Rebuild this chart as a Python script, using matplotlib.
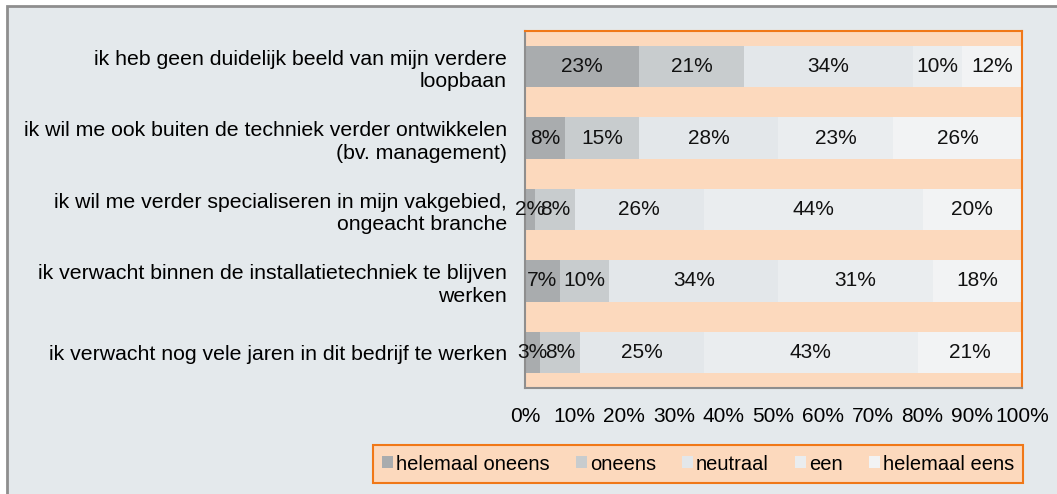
import matplotlib.pyplot as plt
from matplotlib.patches import Rectangle
import numpy as np

plt.rcParams['font.family'] = ['Liberation Sans', 'DejaVu Sans']

# statements, top to bottom
categories = [
    "ik heb geen duidelijk beeld van mijn verdere\nloopbaan",
    "ik wil me ook buiten de techniek verder ontwikkelen\n(bv. management)",
    "ik wil me verder specialiseren in mijn vakgebied,\nongeacht branche",
    "ik verwacht binnen de installatietechniek te blijven\nwerken",
    "ik verwacht nog vele jaren in dit bedrijf te werken",
]
series = ["helemaal oneens", "oneens", "neutraal", "een", "helemaal eens"]
helemaal_oneens = [23, 8, 2, 7, 3]
oneens = [21, 15, 8, 10, 8]
neutraal = [34, 28, 26, 34, 25]
een = [10, 23, 44, 31, 43]
helemaal_eens = [12, 26, 20, 18, 21]
values = [helemaal_oneens, oneens, neutraal, een, helemaal_eens]
colors = ["#a9acae", "#c8ccce", "#e3e7ea", "#eaedef", "#f2f3f4"]

FS = 15

fig = plt.figure(figsize=(10.57, 4.94), dpi=100)
fig.patch.set_facecolor("white")
# chart background with grey frame on top/left
fig.patches.append(Rectangle((7 / 1057, -0.1), 1.2, 1 - 6 / 494 + 0.1, transform=fig.transFigure,
                             facecolor="#e4e9ec", edgecolor="#8e8e8e", linewidth=2, zorder=-10))

ax = fig.add_axes([525 / 1057, 1 - 388 / 494, 497 / 1057, 357 / 494])
ax.set_facecolor("#fcd9bd")

y = np.arange(len(categories))
left = np.zeros(len(categories))
for name, vals, c in zip(series, values, colors):
    vals = np.array(vals, dtype=float)
    ax.barh(y, vals, left=left, height=0.58, color=c, label=name, edgecolor="none")
    for yi, l, v in zip(y, left, vals):
        ax.text(l + v / 2, yi, f"{int(v)}%", ha="center", va="center", fontsize=FS, color="#111111")
    left += vals

ax.set_xlim(0, 100)
ax.set_ylim(len(categories) - 0.5, -0.5)
ax.set_yticks(y)
ax.set_yticklabels(categories, fontsize=15.3, ha="right", linespacing=1.25)
ax.set_xticks(np.arange(0, 101, 10))
ax.set_xticklabels([f"{v}%" for v in range(0, 101, 10)], fontsize=FS)
ax.tick_params(axis="y", length=0, pad=13)
ax.tick_params(axis="x", length=0, pad=14)
for s in ["top", "right"]:
    ax.spines[s].set_color("#f07818")
    ax.spines[s].set_linewidth(1.5)
for s in ["left", "bottom"]:
    ax.spines[s].set_color("#8e8e8e")
    ax.spines[s].set_linewidth(1.5)

leg = fig.legend(loc="center", bbox_to_anchor=(698 / 1057, 1 - 464 / 494), ncol=5, fontsize=14.5,
                 frameon=True, fancybox=False, handlelength=0.55, handleheight=0.55,
                 handletextpad=0.15, columnspacing=1.3, borderpad=0.45)
leg.get_frame().set_facecolor("#fcd9bd")
leg.get_frame().set_edgecolor("#f07818")
leg.get_frame().set_linewidth(1.5)
leg.get_frame().set_alpha(1)

fig.savefig("out.png", dpi=100)
